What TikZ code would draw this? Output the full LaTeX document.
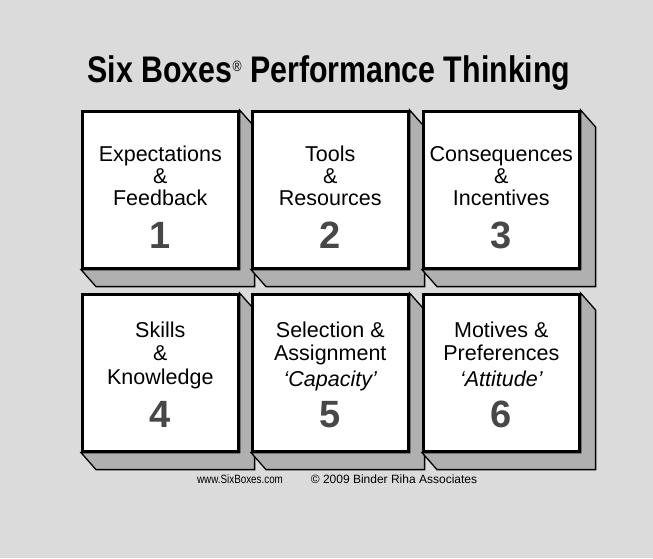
\documentclass[tikz,border=0pt]{standalone}
\usepackage{fontspec}
\setmainfont{Liberation Sans}
\usepackage{graphicx}
\usetikzlibrary{calc}
\begin{document}
\begin{tikzpicture}[x=1pt,y=-1pt,
  face/.style={draw=black, line width=2.6pt, fill=white, minimum width=156pt, minimum height=157pt, anchor=north west, inner sep=0pt},
  bevel/.style={draw=black, line width=1.3pt, fill=gray!62, line join=miter},
  lbl/.style={anchor=base, inner sep=0pt, font=\fontsize{21.5}{24}\selectfont},
  num/.style={anchor=base, inner sep=0pt, font=\fontsize{38}{40}\selectfont\bfseries, text=black!72},
  foot/.style={anchor=base, inner sep=0pt, font=\fontsize{12}{14}\selectfont}
]
\fill[gray!28] (0,0) rectangle (653,558);
\useasboundingbox (0,0) rectangle (653,558);

% title
\node[anchor=base, inner sep=0pt] (title) at (329,82)
  {\scalebox{0.82}[1]{\fontsize{37}{40}\selectfont\bfseries Six Boxes\raisebox{11pt}{\fontsize{15}{15}\selectfont\mdseries ®} Performance Thinking}};

% boxes
\foreach \n/\x/\y in {1/81/110, 2/251/110, 3/422/110, 4/81/293, 5/251/293, 6/422/293}{
  \node[face] (b\n) at (\x,\y) {};
  \draw[bevel] (b\n.north east) -- ++(15,17) -- ($(b\n.south east)+(15,17)$)
     -- ($(b\n.south west)+(15,17)$) -- (b\n.south west) -- (b\n.south east) -- cycle;
}

% row 1 labels
\node[lbl] (t1a) at ($(b1.north)+(0,51)$) {Expectations};
\node[lbl] (t1b) at ($(b1.north)+(0,73)$) {\&};
\node[lbl] (t1c) at ($(b1.north)+(0,95)$) {Feedback};
\node[num] (n1) at ($(b1.north)+(0,138)$) {1};

\node[lbl] (t2a) at ($(b2.north)+(0,51)$) {Tools};
\node[lbl] (t2b) at ($(b2.north)+(0,73)$) {\&};
\node[lbl] (t2c) at ($(b2.north)+(0,95)$) {Resources};
\node[num] (n2) at ($(b2.north)+(0,138)$) {2};

\node[lbl] (t3a) at ($(b3.north)+(0,51)$) {Consequences};
\node[lbl] (t3b) at ($(b3.north)+(0,73)$) {\&};
\node[lbl] (t3c) at ($(b3.north)+(0,95)$) {Incentives};
\node[num] (n3) at ($(b3.north)+(0,138)$) {3};

% row 2 labels
\node[lbl] (t4a) at ($(b4.north)+(0,44)$) {Skills};
\node[lbl] (t4b) at ($(b4.north)+(0,67)$) {\&};
\node[lbl] (t4c) at ($(b4.north)+(0,91)$) {Knowledge};
\node[num] (n4) at ($(b4.north)+(0,134)$) {4};

\node[lbl] (t5a) at ($(b5.north)+(0,44)$) {Selection \&};
\node[lbl] (t5b) at ($(b5.north)+(0,67)$) {Assignment};
\node[lbl] (t5c) at ($(b5.north)+(0,93)$) {\itshape `Capacity'};
\node[num] (n5) at ($(b5.north)+(0,134)$) {5};

\node[lbl] (t6a) at ($(b6.north)+(0,44)$) {Motives \&};
\node[lbl] (t6b) at ($(b6.north)+(0,67)$) {Preferences};
\node[lbl] (t6c) at ($(b6.north)+(0,93)$) {\itshape `Attitude'};
\node[num] (n6) at ($(b6.north)+(0,134)$) {6};

% footer
\node[foot] (f1) at (240,483) {\scalebox{0.82}[1]{www.SixBoxes.com}};
\node[foot] (f2) at (394,483) {\scalebox{1.0}[1]{© 2009 Binder Riha Associates}};
\end{tikzpicture}
\end{document}
